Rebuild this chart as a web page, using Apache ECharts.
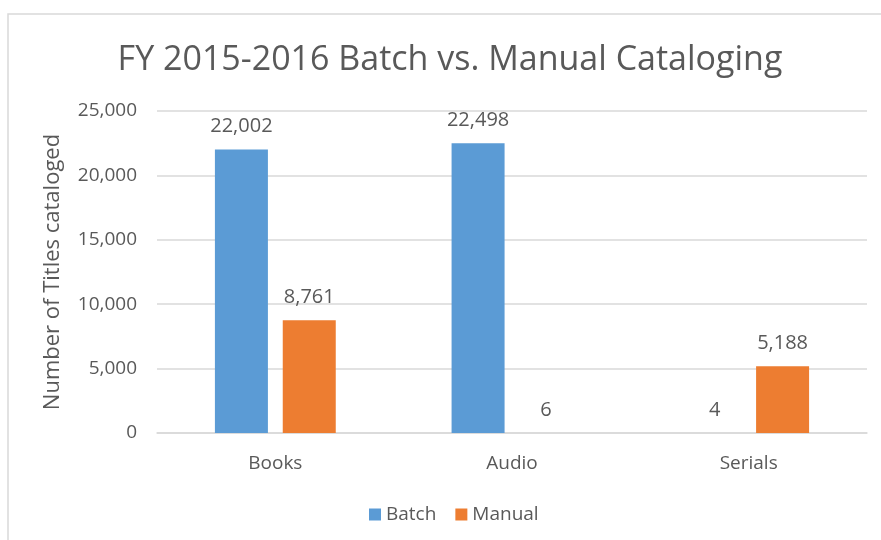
<!DOCTYPE html>
<html>
<head>
<meta charset="utf-8">
<title>FY 2015-2016 Batch vs. Manual Cataloging</title>
<script src="https://cdn.jsdelivr.net/npm/echarts@6/dist/echarts.min.js"></script>
<style>
  html, body { margin: 0; padding: 0; background: #fff; }
  #chart { width: 881px; height: 540px; }
</style>
</head>
<body>
<div id="chart"></div>
<script>
const categories = ['Books', 'Audio', 'Serials']
const batchValues = [22002, 22498, 4]
const manualValues = [8761, 6, 5188]
const yTicks = [0, 5000, 10000, 15000, 20000, 25000]

const textColor = '#595959'
const fontFamily = '"Open Sans", sans-serif'
const fmt = (v) => Number(v).toLocaleString('en-US')

const chart = echarts.init(document.getElementById('chart'))

const labelStyle = {
  show: true,
  position: 'top',
  distance: 13,
  color: textColor,
  fontSize: 20,
  fontFamily: fontFamily,
  formatter: (p) => fmt(p.value)
}

const option = {
  backgroundColor: '#fff',
  animation: false,
  graphic: [{
    type: 'rect',
    shape: { x: 8, y: 14, width: 900, height: 560 },
    style: { fill: 'none', stroke: '#d9d9d9', lineWidth: 1.5 },
    silent: true
  }],
  title: {
    text: 'FY 2015-2016 Batch vs. Manual Cataloging',
    left: 450,
    top: 43,
    padding: 0,
    textAlign: 'center',
    textStyle: {
      color: textColor,
      fontSize: 34,
      fontWeight: 'normal',
      fontFamily: fontFamily
    }
  },
  legend: {
    data: ['Batch', 'Manual'],
    left: 369,
    top: 505,
    padding: 0,
    icon: 'rect',
    itemWidth: 12,
    itemHeight: 12,
    itemGap: 19,
    textStyle: { color: textColor, fontSize: 19, fontFamily: fontFamily }
  },
  grid: {
    left: 157,
    right: 14,
    top: 111,
    bottom: 107,
    containLabel: false
  },
  xAxis: {
    type: 'category',
    data: categories,
    axisLine: { lineStyle: { color: '#d9d9d9', width: 1.5 } },
    axisTick: { show: false },
    axisLabel: { color: textColor, fontSize: 19, fontFamily: fontFamily, margin: 21 }
  },
  yAxis: {
    type: 'value',
    min: yTicks[0],
    max: yTicks[yTicks.length - 1],
    interval: yTicks[1] - yTicks[0],
    name: 'Number of Titles cataloged',
    nameLocation: 'middle',
    nameGap: 93,
    nameTextStyle: { color: textColor, fontSize: 22, fontFamily: fontFamily },
    axisLine: { show: false },
    axisTick: { show: false },
    splitLine: { lineStyle: { color: '#d9d9d9', width: 1.5 } },
    axisLabel: { color: textColor, fontSize: 19, fontFamily: fontFamily, margin: 20, formatter: fmt }
  },
  series: [
    {
      name: 'Batch',
      type: 'bar',
      data: batchValues,
      barWidth: 53,
      barGap: '28%',
      itemStyle: { color: '#5b9bd5' },
      label: labelStyle
    },
    {
      name: 'Manual',
      type: 'bar',
      data: manualValues,
      barWidth: 53,
      itemStyle: { color: '#ed7d31' },
      label: labelStyle
    }
  ]
}

chart.setOption(option)
</script>
</body>
</html>
